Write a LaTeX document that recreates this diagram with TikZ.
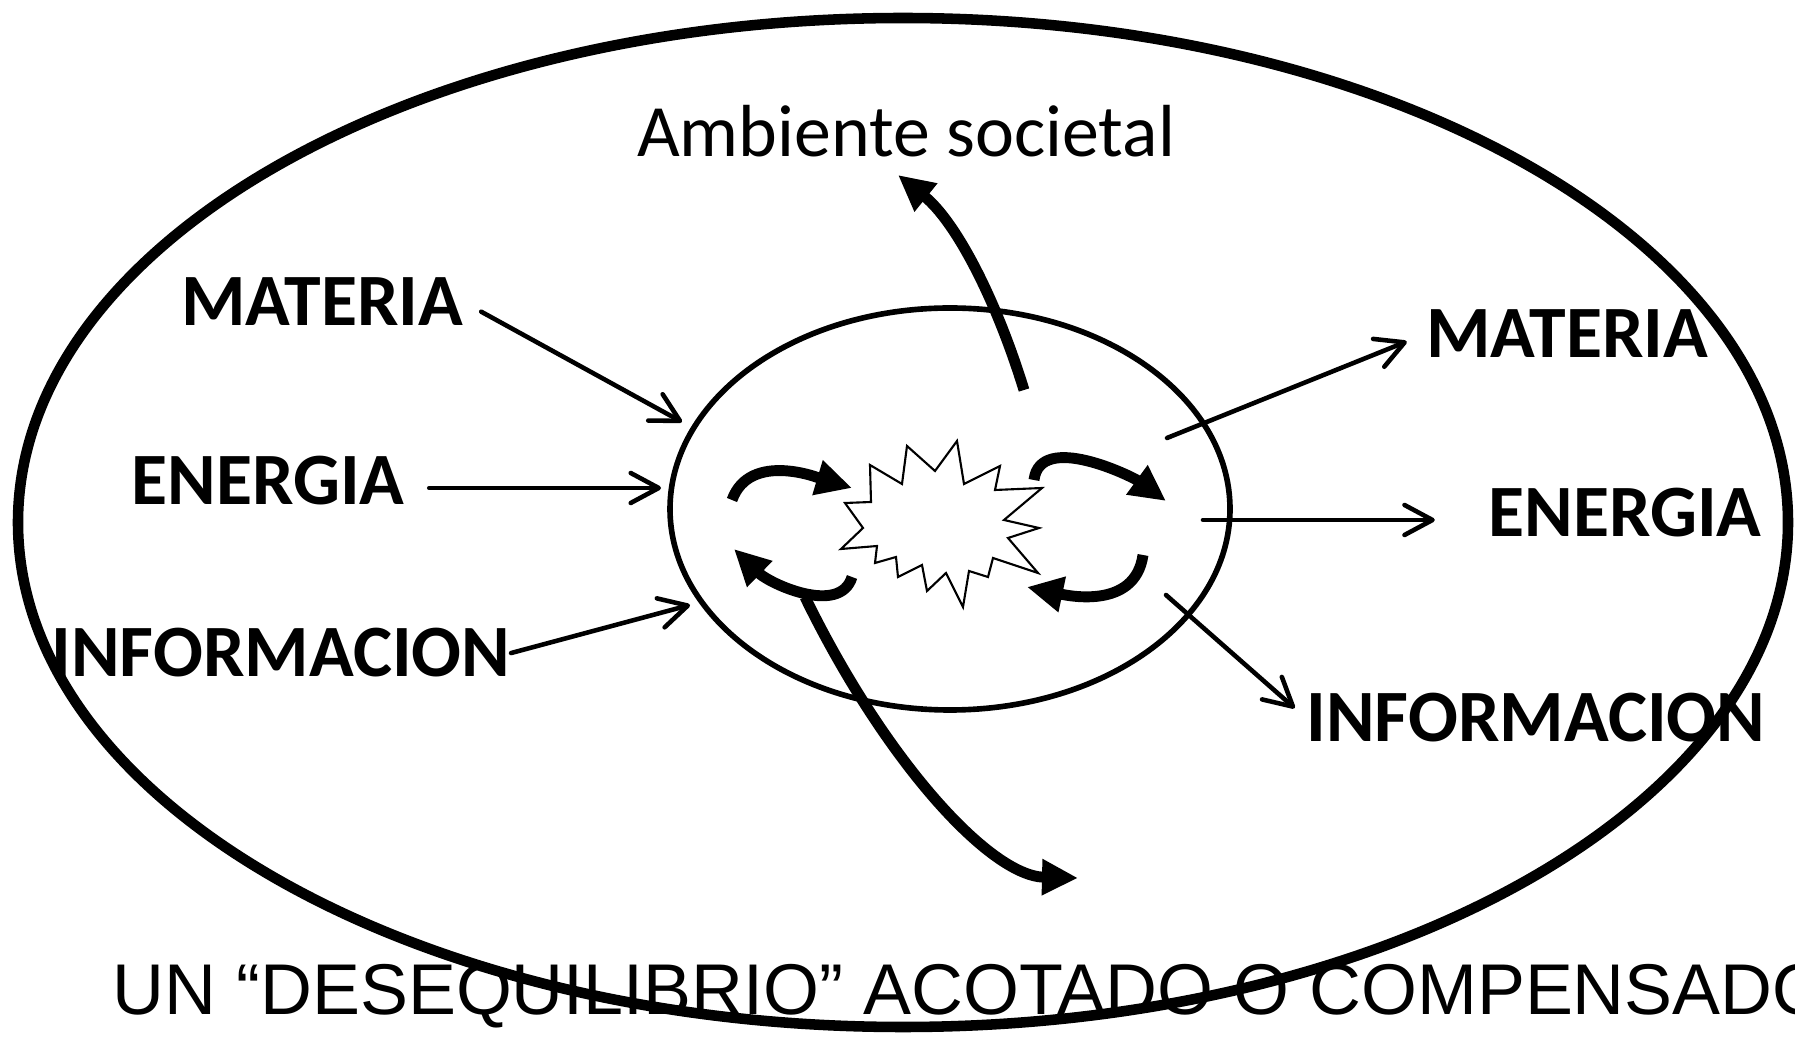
\documentclass[tikz,border=0pt]{standalone}
\usepackage{fontspec}
\setmainfont{Carlito}
\newfontfamily\arialfont{Liberation Sans}
\usepackage{tikz}
\usetikzlibrary{arrows.meta,shapes.geometric}

\tikzset{
  etiqueta/.style={font=\bfseries\fontsize{21}{25}\selectfont, inner sep=0pt, anchor=base},
  flecha/.style={line width=1.3pt, line cap=round, -{Straight Barb[length=0.28cm,width=0.30cm,round]}},
  ciclo/.style={line width=3.1pt, -{Triangle[length=0.36cm,width=0.34cm]}},
}

\begin{document}
\begin{tikzpicture}
    \useasboundingbox (0,0) rectangle (17.95,10.36);

    % Texto inferior (la elipse exterior pasa por encima)
    \node[font=\arialfont\fontsize{20.45}{25}\selectfont, inner sep=0pt, anchor=base west] (titulo) at (1.12,0.22) {UN “DESEQUILIBRIO” ACOTADO O COMPENSADO};

    % Etiquetas de entrada
    \node[etiqueta] (matL) at (3.22,7.10) {MATERIA};
    \node[etiqueta] (eneL) at (2.68,5.31) {ENERGIA};
    \node[etiqueta] (infL) at (2.81,3.59) {INFORMACION};

    % Etiquetas de salida
    \node[etiqueta] (matR) at (15.67,6.78) {MATERIA};
    \node[etiqueta] (eneR) at (16.25,4.99) {ENERGIA};
    \node[etiqueta] (infR) at (15.36,2.94) {INFORMACION};

    \node[font=\fontsize{21}{25}\selectfont, inner sep=0pt, anchor=base] (amb) at (9.06,8.79) {Ambiente societal};

    % Elipse del sistema
    \node[draw, ellipse, line width=1.6pt, minimum width=5.6cm, minimum height=4.02cm] (sistema) at (9.50,5.27) {};

    % Extremos libres de las flechas
    \coordinate (inMat) at (6.82,6.14);
    \coordinate (inEne) at (6.61,5.48);
    \coordinate (inInf) at (6.90,4.31);
    \coordinate (outMat) at (11.67,5.98);
    \coordinate (outEne) at (12.03,5.16);
    \coordinate (outInf) at (11.66,4.41);
    \coordinate (ambIni) at (10.24,6.46);
    \coordinate (ambFin) at (8.98,8.61);
    \coordinate (desIni) at (8.05,4.39);
    \coordinate (desFin) at (10.78,1.58);

    % Flechas de entrada
    \draw[flecha, shorten <=0.2cm] (matL.east) -- (inMat);
    \draw[flecha, shorten <=0.24cm] (eneL.east |- inEne) -- (inEne);
    \draw[flecha] (infL.east) -- (inInf);

    % Flechas de salida
    \draw[flecha, shorten >=0.2cm] (outMat) -- (matR.west);
    \draw[flecha, shorten >=0.53cm] (outEne) -- (outEne -| eneR.west);
    \draw[flecha, shorten >=0.15cm] (outInf) -- (infR.west);

    % Ciclos internos
    \draw[ciclo] (7.32,5.36) .. controls (7.50,5.86) and (8.22,5.57) .. (8.52,5.48);
    \draw[ciclo] (8.52,4.59) .. controls (8.40,4.20) and (7.70,4.52) .. (7.34,4.87);
    \draw[ciclo] (10.34,5.56) .. controls (10.40,6.05) and (11.33,5.59) .. (11.66,5.35);
    \draw[ciclo] (11.43,4.81) .. controls (11.35,4.25) and (10.65,4.41) .. (10.27,4.49);

    % Explosion central
    \draw[line width=0.6pt, fill=white] (9.07,5.90) -- (9.35,5.65) -- (9.57,5.95) -- (9.64,5.52)
        -- (10.00,5.70) -- (9.95,5.46) -- (10.42,5.48) -- (10.04,5.16) -- (10.39,5.08)
        -- (10.08,4.98) -- (10.38,4.63) -- (9.93,4.78) -- (9.88,4.59) -- (9.69,4.65)
        -- (9.63,4.29) -- (9.46,4.63) -- (9.27,4.45) -- (9.22,4.71) -- (8.98,4.59)
        -- (8.96,4.79) -- (8.75,4.73) -- (8.77,4.90) -- (8.41,4.87) -- (8.63,5.08)
        -- (8.45,5.33) -- (8.71,5.34) -- (8.70,5.71) -- (9.02,5.52) -- cycle;

    % Salida hacia el ambiente y desequilibrio
    \draw[ciclo] (ambIni) .. controls (9.95,7.40) and (9.55,8.15) .. (ambFin);
    \draw[ciclo] (desIni) .. controls (8.85,2.75) and (9.90,1.60) .. (desFin);

    % Elipse exterior
    \draw[line width=3pt] (9.03,5.135) ellipse (8.85 and 5.045);
\end{tikzpicture}
\end{document}
